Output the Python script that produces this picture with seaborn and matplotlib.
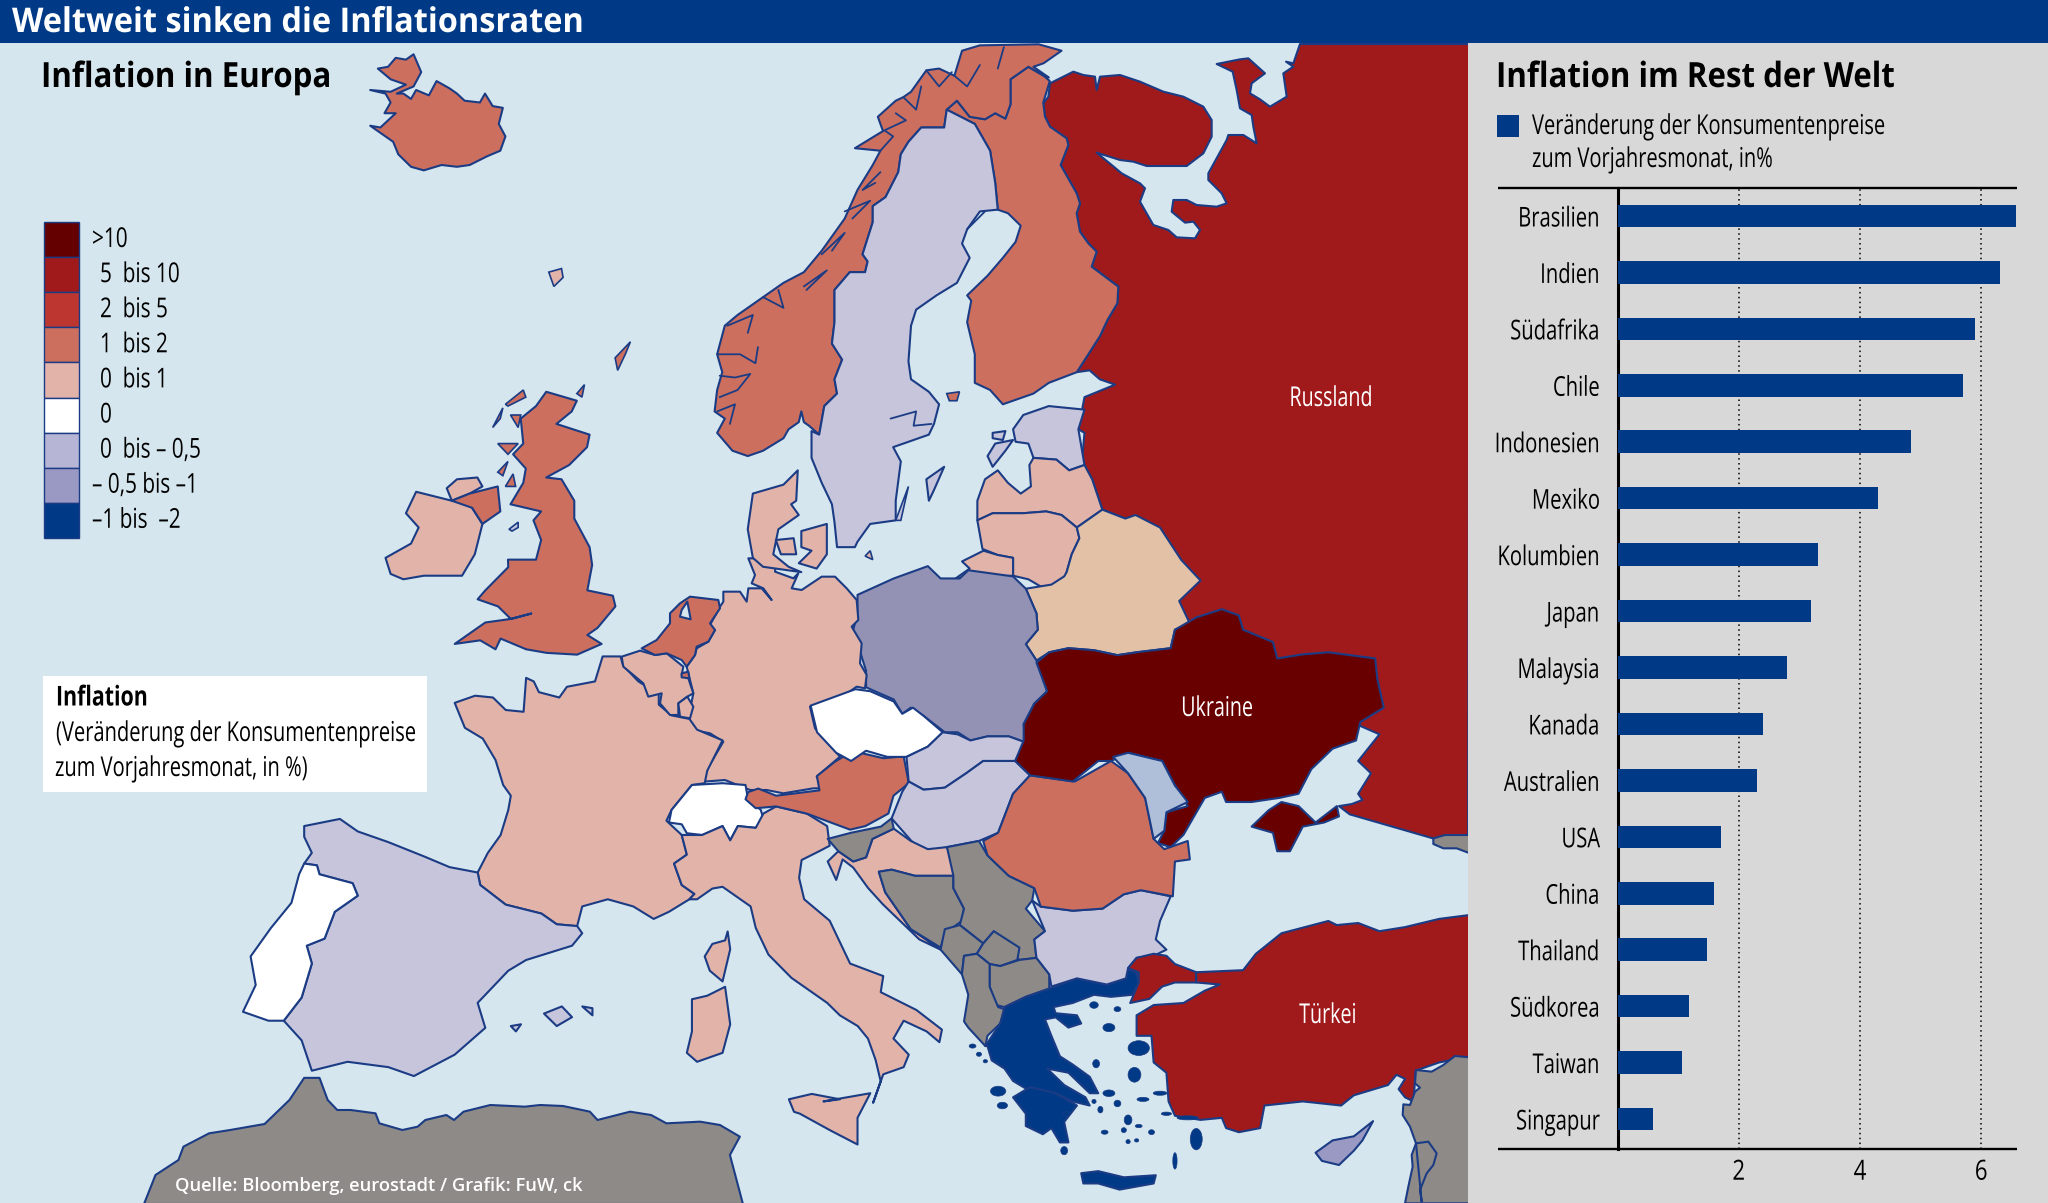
import matplotlib
matplotlib.use("Agg")
import matplotlib.pyplot as plt
from matplotlib.patches import Polygon, Rectangle, Ellipse
from matplotlib.patheffects import AbstractPathEffect
from matplotlib.transforms import Affine2D
import seaborn as sns
import pandas as pd

# ---- chart values ----
COUNTRIES_WORLD = ["Brasilien", "Indien", "Südafrika", "Chile", "Indonesien", "Mexiko", "Kolumbien", "Japan",
                   "Malaysia", "Kanada", "Australien", "USA", "China", "Thailand", "Südkorea", "Taiwan", "Singapur"]
INFLATION_WORLD = [6.57, 6.31, 5.9, 5.7, 4.84, 4.3, 3.3, 3.2, 2.8, 2.4, 2.3, 1.7, 1.6, 1.47, 1.18, 1.06, 0.59]
X_TICKS = [2, 4, 6]
LEGEND_LABELS = [">10", "5  bis 10", "2  bis 5", "1  bis 2", "0  bis 1", "0", "0  bis – 0,5", "– 0,5 bis –1", "–1 bis  –2"]
LEGEND_COLOURS = ["#650000", "#A01A1C", "#BD362F", "#CC6F5E", "#E2B3A8", "#FFFFFF", "#B7B5D5", "#9A99C3", "#003A87"]

C10, C5, C1, C0, WHITE, LAV, POL, GREY, BEL, MOL, BLUE, CYP = ("#680000", "#A01A1C", "#CC6F5E", "#E2B3A8", "#FFFFFF",
    "#C6C5DC", "#9392B5", "#8E8A87", "#E3C1A7", "#AFBFD9", "#003A87", "#9A99C3")
SEA, PANEL, LINE = "#D5E6EE", "#D9D8D9", "#1B3C85"

# reference crops in which the outlines were read
def z4(p): return [(100 + x / 2.613, 1100 + y / 3) for x, y in p]
def z5(p): return [(360 + x / 1.96, 40 + y / 2.8) for x, y in p]
def z6(p): return [(220 + x / 1.96, 560 + y / 2.8) for x, y in p]
def z7(p): return [(800 + x / 2.347, 560 + y / 2.438) for x, y in p]
def z8(p): return [(1040 + x / 3, 40 + y / 3) for x, y in p]
def z9(p): return [(600 + x / 3, 560 + y / 3) for x, y in p]
def z10(p): return [(1400 + x / 3, 820 + y / 3) for x, y in p]

RU_FI = z5([(1405, 930), (1450, 830), (1465, 784)]) + z8([(232, 790), (235, 740), (155, 680), (170, 635), (145, 610), (120, 575), (110, 520), (120, 490), (110, 460), (62, 375), (85, 315), (80, 295), (30, 260), (15, 230), (10, 190)])
RUSSIA = RU_FI + z8([(25, 170), (30, 130), (60, 115), (100, 95), (130, 105), (165, 110), (170, 150), (180, 110), (240, 105), (300, 125), (370, 155), (430, 170), (490, 200), (515, 240), (515, 290), (490, 340), (440, 378), (320, 378), (280, 365), (240, 360), (170, 338), (215, 375), (245, 400), (300, 430), (315, 445), (300, 485), (340, 555), (385, 570), (410, 592), (465, 595), (480, 570), (460, 545), (435, 548), (395, 515), (400, 480), (440, 480), (470, 495), (530, 500), (560, 490), (545, 460), (505, 420), (505, 400), (560, 300), (565, 285), (610, 285), (650, 310), (640, 260), (635, 225), (600, 205), (590, 150), (578, 95), (530, 72), (600, 58), (625, 55), (675, 100), (635, 130), (630, 160), (660, 178), (690, 200), (740, 170), (730, 100), (760, 80), (738, 65), (760, 70), (780, 12), (1290, 12)]) + z7([(1568, 670), (1490, 680), (1440, 665), (1390, 650), (1340, 635), (1290, 620), (1265, 600), (1295, 595), (1320, 585), (1310, 570), (1340, 520), (1310, 490), (1360, 425), (1305, 400), (1000, 300), (800, 100)]) + z5([(1500, 1340), (1455, 1315), (1435, 1230), (1415, 1180), (1420, 1100), (1408, 1090), (1420, 1000), (1480, 965), (1450, 950), (1430, 925)])
FINLAND = z5([(1150, 195), (1170, 170), (1195, 215), (1225, 222), (1245, 205), (1265, 220), (1275, 180), (1275, 110), (1310, 75), (1340, 100), (1352, 115), (1339, 176)]) + RU_FI[::-1] + z5([(1350, 960), (1320, 990), (1260, 1020), (1235, 980), (1205, 960), (1205, 880), (1190, 790), (1198, 730), (1190, 715), (1230, 660), (1260, 610), (1285, 565), (1295, 520), (1270, 485), (1250, 475), (1245, 400), (1235, 310), (1205, 235)])
NORWAY = z5([(760, 1165), (730, 1150), (700, 1100), (715, 1060), (695, 1040), (700, 980), (710, 930), (700, 880), (715, 800), (740, 770), (780, 730), (830, 680), (870, 650), (905, 590), (950, 500), (975, 420), (1005, 350), (1020, 310), (970, 303), (1025, 255), (1015, 215), (1050, 170), (1065, 160), (1080, 145), (1110, 85), (1135, 80), (1165, 100), (1180, 30), (1215, 15), (1330, 12), (1375, 30), (1340, 65), (1320, 75), (1350, 105), (1340, 100), (1310, 75), (1275, 110), (1275, 180), (1265, 220), (1245, 205), (1225, 222), (1195, 215), (1170, 170), (1150, 195), (1145, 245), (1100, 245), (1075, 285), (1060, 320), (1055, 370), (1030, 440), (1005, 465), (1005, 510), (985, 600), (995, 620), (990, 650), (960, 650), (930, 700), (930, 790), (925, 850), (945, 895), (930, 950), (935, 990), (910, 1025), (900, 1105), (880, 1080), (870, 1070), (865, 1040), (860, 1070), (840, 1090), (830, 1115), (790, 1150)])
SWEDEN = z5([(1150, 195), (1205, 235), (1235, 310), (1245, 400), (1250, 475), (1215, 480), (1190, 530), (1180, 570), (1195, 610), (1170, 680), (1130, 715), (1090, 755), (1080, 800), (1075, 900), (1080, 950), (1115, 985), (1135, 1020), (1125, 1075), (1115, 1105), (1085, 1120), (1045, 1140), (1060, 1180), (1050, 1290), (1050, 1345), (1000, 1355), (975, 1405), (970, 1420), (935, 1420), (930, 1350), (925, 1300), (905, 1240), (885, 1170), (885, 1095), (900, 1105), (910, 1025), (935, 990), (930, 950), (945, 895), (925, 850), (930, 790), (930, 700), (960, 650), (990, 650), (995, 620), (985, 600), (1005, 510), (1005, 465), (1030, 440), (1055, 370), (1060, 320), (1075, 285), (1100, 245), (1145, 245)])
ICELAND = z5([(20, 140), (50, 150), (60, 175), (48, 205), (70, 205), (55, 225), (40, 245), (20, 240), (40, 260), (65, 285), (75, 320), (100, 355), (125, 365), (160, 350), (190, 355), (215, 350), (250, 325), (275, 310), (285, 270), (272, 235), (280, 190), (260, 185), (245, 150), (235, 175), (205, 170), (190, 150), (175, 135), (150, 115), (135, 155), (110, 140), (100, 165), (85, 150), (72, 150), (105, 130), (120, 90), (105, 40), (90, 55), (70, 50), (55, 75), (35, 80), (60, 110), (90, 125), (60, 145)])
ESTONIA = z5([(1280, 1090), (1300, 1050), (1350, 1025), (1420, 1035), (1408, 1090), (1420, 1190), (1390, 1205), (1365, 1175), (1320, 1170), (1310, 1130), (1285, 1125)])
LATVIA = z5([(1320, 1170), (1365, 1175), (1390, 1205), (1420, 1190), (1435, 1230), (1455, 1315), (1420, 1350), (1405, 1365), (1375, 1330), (1345, 1320), (1300, 1325), (1240, 1325), (1210, 1345), (1210, 1290), (1225, 1230), (1250, 1205), (1270, 1240), (1295, 1270), (1315, 1250), (1312, 1190)])
LITHUANIA = z5([(1210, 1345), (1240, 1325), (1300, 1325), (1345, 1320), (1375, 1330), (1405, 1365), (1410, 1395), (1395, 1440), (1385, 1490), (1380, 1520), (1340, 1535), (1310, 1510), (1280, 1500), (1280, 1450), (1250, 1442), (1220, 1425)])
KALININGRAD = z5([(1180, 1460), (1222, 1430), (1250, 1442), (1280, 1450), (1280, 1500), (1180, 1505), (1160, 1515), (1195, 1480)])
BELARUS = z5([(1385, 1490), (1395, 1440), (1410, 1395), (1405, 1365), (1455, 1315), (1500, 1340), (1520, 1330), (1568, 1365)]) + z7([(895, 0), (940, 50), (890, 100), (915, 155), (880, 170), (870, 215), (790, 225), (745, 232), (690, 220), (630, 215), (585, 225), (555, 245), (530, 205), (558, 170), (555, 130), (530, 70), (590, 60), (620, 40)])
POLAND = z7([(135, 85), (220, 45), (300, 15), (330, 45), (375, 45), (395, 25), (500, 40), (530, 70), (555, 130), (558, 170), (530, 205), (555, 245), (580, 320), (550, 350), (525, 400), (530, 445), (490, 430), (440, 430), (400, 440), (370, 420), (340, 420), (290, 380), (260, 360), (240, 375), (220, 340), (165, 315), (155, 310), (155, 270), (140, 220), (125, 170), (135, 130)])
GERMANY = z9([(530, -5), (525, 35), (580, 55), (595, 40), (575, 85), (605, 90), (665, 50), (705, 50), (740, 85), (770, 120), (775, 180), (755, 200), (785, 250), (780, 310), (800, 345), (795, 385), (770, 380), (720, 415), (670, 425), (630, 440), (645, 505), (720, 590), (650, 650), (668, 685), (640, 685), (550, 700), (500, 690), (450, 690), (375, 660), (310, 665), (320, 630), (370, 545), (330, 520), (280, 510), (265, 475), (280, 400), (270, 360), (260, 320), (285, 285), (290, 265), (325, 245), (345, 210), (330, 195), (360, 140), (370, 125), (370, 95), (420, 95), (440, 125), (445, 85), (485, 85), (515, 120), (490, 85), (455, 70), (465, 45), (445, -5)])
FRANCE = z6([(750, 270), (785, 270), (790, 295), (820, 340), (860, 375), (860, 405), (885, 435), (920, 445), (935, 475), (985, 505), (955, 590), (950, 625), (925, 630), (885, 700), (875, 730), (905, 770), (915, 825), (890, 850), (905, 910), (930, 935), (920, 950), (880, 985), (850, 1005), (810, 970), (760, 950), (710, 970), (700, 1025), (660, 1020), (630, 990), (560, 965), (510, 910), (505, 875), (525, 820), (550, 770), (565, 700), (570, 660), (555, 630), (540, 560), (515, 500), (480, 470), (460, 400), (500, 380), (535, 385), (560, 420), (595, 425), (600, 330), (615, 340), (625, 370), (665, 385), (680, 355), (735, 340)])
BELGIUM = z9([(65, 290), (120, 272), (165, 285), (200, 280), (250, 320), (245, 345), (265, 355), (280, 400), (262, 410), (235, 430), (235, 465), (210, 465), (180, 430), (185, 400), (145, 410), (130, 370), (100, 345), (70, 320)])
LUXEMBOURG = z9([(235, 430), (262, 410), (280, 440), (270, 475), (240, 470)])
NETHERLANDS = z9([(170, 240), (210, 190), (210, 160), (240, 130), (270, 110), (355, 120), (360, 145), (330, 190), (345, 210), (325, 245), (290, 260), (285, 285), (260, 320), (245, 300), (200, 280), (165, 285), (125, 265)])
LIMBURG = z9([(245, 340), (265, 335), (268, 355), (245, 352)])
IJSSELMEER = z9([(245, 150), (262, 125), (272, 178), (240, 170)])
SWITZERLAND = z6([(885, 700), (925, 630), (985, 625), (1030, 630), (1035, 670), (1060, 700), (1065, 725), (1050, 750), (1015, 745), (1000, 785), (985, 745), (945, 770), (915, 765), (905, 740), (880, 735)])
AUSTRIA = z6([(1035, 650), (1055, 640), (1090, 660), (1175, 645), (1170, 605), (1205, 565), (1240, 535), (1300, 555), (1340, 550), (1350, 625), (1320, 660), (1310, 710), (1265, 745), (1235, 755), (1150, 710), (1090, 690), (1050, 695), (1030, 670)])
CZECHIA = z7([(25, 355), (130, 315), (165, 320), (220, 345), (240, 375), (265, 360), (290, 380), (335, 420), (300, 455), (250, 480), (205, 480), (155, 465), (120, 490), (85, 470), (40, 420)])
SLOVAKIA = z7([(250, 480), (300, 455), (335, 420), (370, 425), (400, 440), (440, 430), (490, 430), (530, 445), (505, 490), (430, 490), (390, 520), (340, 555), (290, 560), (255, 540)])
HUNGARY = z7([(255, 540), (290, 560), (340, 555), (390, 520), (430, 490), (505, 490), (540, 525), (500, 570), (465, 665), (420, 685), (345, 700), (310, 715), (270, 695), (215, 630), (240, 565)])
SLOVENIA = z7([(65, 680), (120, 665), (190, 650), (215, 630), (220, 655), (170, 680), (155, 725), (125, 735), (90, 710)])
CROATIA = z7([(155, 725), (170, 680), (220, 655), (260, 685), (300, 705), (345, 700), (365, 770), (270, 770), (215, 755), (185, 760), (200, 810), (260, 900), (330, 950), (280, 925), (195, 840), (160, 800), (125, 750), (100, 730), (85, 780), (65, 735), (90, 710), (125, 735)])
BOSNIA = z7([(185, 760), (215, 755), (270, 770), (360, 770), (360, 800), (385, 850), (380, 880), (340, 910), (330, 945), (260, 900), (200, 810)])
SERBIA = z7([(345, 700), (420, 685), (440, 720), (490, 770), (550, 800), (545, 830), (530, 850), (575, 905), (550, 925), (555, 970), (515, 975), (480, 940), (455, 905), (430, 935), (375, 890), (385, 850), (360, 800), (360, 770)])
MONTENEGRO = z7([(340, 900), (375, 890), (430, 935), (415, 960), (385, 965), (380, 1010), (330, 950)])
KOSOVO = z7([(430, 935), (455, 905), (515, 945), (510, 975), (470, 990), (445, 985), (415, 960)])
MACEDONIA = z7([(445, 985), (470, 990), (515, 975), (555, 970), (585, 1010), (585, 1045), (530, 1065), (480, 1090), (460, 1085), (445, 1040)])
ALBANIA = z7([(385, 965), (415, 960), (445, 985), (445, 1040), (465, 1090), (480, 1095), (470, 1130), (440, 1160), (435, 1185), (395, 1140), (385, 1125), (395, 1060), (380, 1010)])
GREECE = z7([(435, 1185), (470, 1130), (480, 1090), (530, 1065), (585, 1045), (650, 1020), (720, 1035), (765, 1020), (760, 995), (790, 1005), (795, 1030), (780, 1060), (730, 1065), (690, 1060), (640, 1080), (595, 1090), (600, 1105), (650, 1110), (660, 1130), (630, 1140), (600, 1115), (575, 1120), (590, 1160), (610, 1210), (640, 1230), (680, 1260), (700, 1300), (680, 1300), (630, 1250), (580, 1240), (620, 1280), (670, 1310), (680, 1330), (640, 1320), (600, 1300), (540, 1295), (500, 1270), (480, 1240), (450, 1220), (440, 1185)])
PELOPONNESE = z7([(500, 1310), (540, 1285), (600, 1300), (650, 1330), (620, 1370), (630, 1420), (610, 1420), (590, 1385), (570, 1400), (530, 1380), (530, 1350)])
CRETE = z7([(660, 1495), (700, 1490), (760, 1505), (835, 1500), (830, 1520), (750, 1535), (700, 1520), (665, 1520)])
BULGARIA = z7([(545, 830), (565, 845), (640, 855), (710, 850), (760, 815), (800, 805), (870, 820), (845, 880), (835, 925), (860, 950), (830, 965), (790, 970), (770, 995), (765, 1020), (720, 1035), (650, 1020), (590, 1040), (585, 1010), (555, 970), (550, 925), (575, 905)])
ROMANIA = z7([(430, 685), (465, 665), (500, 570), (540, 525), (645, 540), (730, 490), (770, 520), (810, 580), (830, 680), (855, 705), (910, 685), (915, 730), (880, 735), (875, 820), (800, 805), (760, 815), (710, 850), (640, 855), (565, 845), (550, 800), (490, 770), (440, 720)])
MOLDOVA = z7([(735, 480), (770, 470), (850, 490), (880, 550), (910, 590), (860, 615), (855, 660), (830, 680), (810, 580), (770, 520)])
UKRAINE = z7([(555, 250), (585, 225), (630, 215), (690, 220), (745, 232), (790, 225), (870, 215), (880, 170), (930, 140), (990, 120), (1030, 135), (1040, 170), (1110, 200), (1120, 240), (1180, 230), (1240, 225), (1350, 240), (1355, 290), (1370, 360), (1315, 395), (1305, 440), (1250, 460), (1200, 510), (1170, 570), (1125, 580), (1060, 590), (1000, 590), (990, 565), (950, 580), (925, 625), (900, 670), (870, 700), (840, 690), (855, 660), (860, 615), (910, 600), (880, 550), (850, 490), (770, 470), (730, 490), (700, 490), (640, 540), (540, 525), (505, 490), (525, 440), (525, 400), (550, 350), (580, 320)])
CRIMEA = z7([(1060, 650), (1100, 610), (1130, 590), (1170, 600), (1210, 640), (1260, 600), (1265, 625), (1230, 640), (1180, 650), (1150, 710), (1120, 710), (1110, 665)])
THRACE = z7([(770, 995), (790, 970), (830, 960), (860, 965), (880, 985), (930, 1005), (930, 1030), (880, 1030), (850, 1040), (820, 1070), (775, 1080), (795, 1030), (795, 1005)])
ANATOLIA = z7([(930, 1005), (1040, 1000), (1070, 960), (1130, 910), (1240, 880), (1260, 890), (1310, 885), (1360, 905), (1420, 895), (1500, 875), (1575, 865), (1575, 1210), (1500, 1225), (1445, 1245), (1440, 1320), (1420, 1310), (1405, 1290), (1420, 1265), (1400, 1255), (1380, 1280), (1300, 1305), (1270, 1330), (1180, 1320), (1090, 1330), (1080, 1385), (1030, 1395), (1000, 1385), (990, 1360), (940, 1365), (880, 1355), (865, 1320), (860, 1250), (830, 1225), (825, 1160), (790, 1160), (790, 1110), (830, 1085), (900, 1080), (950, 1050), (985, 1035), (930, 1030)])
LEVANT = z10([(210, 712), (165, 708), (130, 735), (95, 755), (48, 750), (45, 790), (60, 803), (45, 815), (30, 855), (10, 853), (8, 885), (30, 920), (48, 970), (35, 1005), (38, 1040), (25, 1100), (15, 1150), (210, 1150)])
ISRAEL = z10([(48, 970), (85, 965), (110, 1000), (100, 1035), (80, 1060), (60, 1110), (65, 1145)])
GEORGIA = z10([(100, 55), (135, 45), (210, 45), (210, 100), (170, 85), (130, 85), (100, 72)])
CYPRUS = z7([(1210, 1445), (1250, 1415), (1300, 1405), (1345, 1368), (1320, 1415), (1300, 1440), (1265, 1475), (1225, 1465)])
ITALY = z6([(915, 825), (905, 770), (945, 770), (985, 745), (1000, 785), (1015, 745), (1050, 750), (1065, 710), (1090, 690), (1150, 710), (1190, 745), (1195, 800), (1175, 815), (1140, 840), (1135, 890), (1145, 950), (1195, 1010), (1235, 1130), (1300, 1165), (1295, 1210), (1365, 1260), (1415, 1315), (1410, 1350), (1385, 1320), (1340, 1290), (1320, 1340), (1350, 1385), (1340, 1420), (1300, 1440), (1280, 1520), (1295, 1460), (1285, 1400), (1270, 1340), (1250, 1305), (1215, 1275), (1190, 1240), (1120, 1170), (1075, 1105), (1050, 1030), (1040, 970), (985, 915), (965, 920), (935, 950), (920, 950), (930, 935), (905, 910), (890, 850)])
SICILY = z6([(1115, 1510), (1160, 1495), (1215, 1510)]) + z7([(55, 1320), (165, 1300), (135, 1360), (135, 1425), (70, 1390), (0, 1350)]) + z6([(1125, 1545)])
CORSICA = z6([(995, 1040), (1000, 1090), (985, 1180), (960, 1150), (950, 1110), (965, 1075), (990, 1065)])
SARDINIA = z6([(925, 1230), (955, 1220), (990, 1195), (1000, 1300), (985, 1380), (935, 1405), (915, 1380), (925, 1320)])
SPAIN = z6([(165, 745), (235, 725), (270, 760), (330, 790), (400, 830), (450, 860), (505, 875), (510, 910), (560, 965), (630, 990), (660, 1020), (700, 1025), (710, 1045), (690, 1080), (600, 1120), (565, 1150), (505, 1240), (520, 1310), (460, 1385), (380, 1445), (330, 1420), (250, 1405), (180, 1430), (160, 1345), (125, 1290), (160, 1225), (180, 1130), (170, 1080), (205, 1060), (225, 985), (270, 940), (260, 905), (195, 880), (190, 855), (165, 850), (180, 820), (165, 775)])
PORTUGAL = z6([(165, 850), (190, 855), (195, 880), (260, 905), (270, 940), (225, 985), (205, 1060), (170, 1080), (180, 1130), (160, 1225), (125, 1290), (95, 1290), (45, 1265), (70, 1190), (60, 1110), (100, 1030), (140, 960), (155, 880)])
MALLORCA = z6([(635, 1270), (670, 1250), (690, 1280), (660, 1305)])
MENORCA = z6([(710, 1250), (730, 1255), (730, 1275)])
IBIZA = z6([(570, 1305), (590, 1300), (580, 1320)])
BRITAIN = z5([(365, 985), (425, 1010), (415, 1040), (385, 1075), (450, 1105), (445, 1140), (410, 1190), (365, 1225), (395, 1230), (420, 1290), (420, 1340), (450, 1420), (455, 1470)]) + z6([(720, 85), (770, 100), (775, 130), (740, 190), (720, 210), (748, 235), (700, 265), (640, 260), (600, 250), (550, 220), (540, 250), (510, 225), (460, 235), (520, 175), (570, 165), (610, 150), (570, 165), (545, 130), (505, 110), (520, 85), (565, 20)]) + z5([(290, 1455), (345, 1455), (355, 1400), (340, 1345), (355, 1320), (295, 1300), (320, 1240), (325, 1200), (300, 1160), (320, 1130), (315, 1060), (345, 1025)])
IRELAND = z5([(110, 1265), (180, 1290), (215, 1300), (240, 1355), (225, 1440), (200, 1500), (125, 1500), (85, 1510), (60, 1495), (50, 1450), (100, 1410), (115, 1365), (90, 1325)])
DONEGAL = z5([(170, 1255), (190, 1230), (230, 1225), (240, 1250), (215, 1270), (180, 1290)])
NI = z5([(180, 1290), (215, 1270), (270, 1250), (275, 1320), (240, 1355), (220, 1310)])
DENMARK = z5([(760, 1370), (770, 1270), (830, 1245), (858, 1205), (855, 1290), (845, 1300), (860, 1330), (820, 1370), (810, 1440), (840, 1475), (865, 1490), (790, 1475), (770, 1450)])
FYN = z5([(815, 1400), (850, 1395), (855, 1440), (825, 1440)])
ZEALAND = z5([(865, 1375), (915, 1355), (915, 1440), (895, 1480), (860, 1465), (885, 1430), (865, 1420)])
GOTLAND = z5([(1110, 1230), (1145, 1195), (1125, 1260), (1115, 1290)])
SAAREMAA = z5([(1230, 1165), (1245, 1130), (1280, 1120), (1265, 1150), (1240, 1195)])
HIIUMAA = z5([(1240, 1100), (1265, 1095), (1260, 1120), (1240, 1115)])
AFRICA = z4([(115, 312), (145, 225), (205, 180), (218, 140), (285, 100), (340, 90), (430, 72), (495, 0)]) + z6([(165, 1450), (195, 1450)]) + z4([(595, 0), (620, 30), (655, 30), (720, 40), (730, 70), (790, 90), (830, 80), (850, 60), (905, 45), (925, 60), (950, 35), (1020, 15), (1110, 20), (1150, 15), (1210, 18), (1280, 35), (1300, 60), (1385, 35), (1440, 45), (1480, 70), (1568, 65), (1620, 75), (1672, 110), (1646, 165), (1680, 312)])

REGIONS = [(RUSSIA, C5), (FINLAND, C1), (NORWAY, C1), (SWEDEN, LAV), (ICELAND, C1), (ESTONIA, LAV), (SAAREMAA, LAV), (HIIUMAA, LAV),
           (LATVIA, C0), (LITHUANIA, C0), (KALININGRAD, C0), (BELARUS, BEL), (POLAND, POL), (GERMANY, C0), (FRANCE, C0),
           (BELGIUM, C0), (LUXEMBOURG, C0), (NETHERLANDS, C1), (LIMBURG, C1), (IJSSELMEER, SEA), (SWITZERLAND, WHITE), (ITALY, C0), (AUSTRIA, C1), (CZECHIA, WHITE),
           (SLOVAKIA, LAV), (HUNGARY, LAV), (CROATIA, C0), (SLOVENIA, GREY), (BOSNIA, GREY), (SERBIA, GREY), (MONTENEGRO, GREY),
           (KOSOVO, GREY), (MACEDONIA, GREY), (ALBANIA, GREY), (GREECE, BLUE), (PELOPONNESE, BLUE), (CRETE, BLUE),
           (BULGARIA, LAV), (ROMANIA, C1), (UKRAINE, C10), (MOLDOVA, MOL), (CRIMEA, C10), (THRACE, C5), (ANATOLIA, C5),
           (LEVANT, GREY), (ISRAEL, GREY), (GEORGIA, GREY), (CYPRUS, CYP), (SICILY, C0), (CORSICA, C0), (SARDINIA, C0),
           (SPAIN, LAV), (PORTUGAL, WHITE), (MALLORCA, LAV), (MENORCA, LAV), (IBIZA, LAV), (BRITAIN, C1), (IRELAND, C0), (DONEGAL, C0), (NI, C1),
           (DENMARK, C0), (FYN, C0), (ZEALAND, C0), (GOTLAND, LAV), (AFRICA, GREY)]

GREEK_ISLES = [(795, 1190, 25, 18), (785, 1255, 15, 18), (725, 1140, 14, 10), (690, 1085, 10, 8), (745, 1095, 8, 6), (695, 1228, 8, 10),
               (620, 1440, 8, 10), (725, 1300, 14, 8), (745, 1325, 8, 8), (770, 1365, 9, 12), (805, 1315, 14, 5), (845, 1300, 16, 5),
               (825, 1395, 7, 6), (795, 1380, 8, 4), (705, 1340, 6, 8), (715, 1395, 8, 5), (760, 1390, 6, 6), (770, 1418, 5, 5),
               (790, 1415, 5, 4), (860, 1350, 12, 4), (910, 1360, 25, 5), (930, 1412, 14, 26), (880, 1465, 5, 20), (475, 1330, 12, 8),
               (465, 1295, 18, 12), (405, 1185, 8, 5), (420, 1205, 6, 5), (435, 1222, 5, 4), (625, 1350, 8, 5), (690, 1320, 5, 5)]
NORTH_ISLES = [[(285, 1020), (320, 980), (325, 1000), (290, 1025)],
               [(260, 1085), (280, 1030), (275, 1060)], [(295, 1050), (315, 1050), (310, 1085)], [(270, 1130), (310, 1130), (290, 1160)],
               [(270, 1210), (290, 1180), (280, 1220)], [(285, 1250), (300, 1215), (305, 1250)], [(425, 990), (440, 965), (435, 1000)],
               [(500, 890), (530, 845), (520, 880), (505, 925)], [(370, 650), (395, 640), (398, 665), (380, 690)], [(292, 1370), (310, 1350), (310, 1365), (298, 1375)],
               [(990, 1445), (1000, 1430), (1005, 1455)], [(1150, 990), (1175, 985), (1170, 1010), (1155, 1010)], [(1050, 1345), (1075, 1250), (1060, 1345)]]
NORTH_ISLE_COLOURS = [C1, C1, C1, C1, C1, C1, C1, C1, C0, LAV, C0, C1, LAV]
FJORDS = [[(700, 880), (745, 880), (775, 905), (780, 860)], [(705, 940), (735, 945), (765, 935), (740, 980), (705, 1000)],
          [(700, 1040), (735, 1020), (725, 1075)], [(720, 800), (770, 770), (760, 820)], [(790, 720), (830, 750), (820, 700)],
          [(875, 700), (915, 645), (870, 690)], [(1010, 400), (985, 420), (1020, 370)], [(950, 480), (1000, 450), (965, 500)],
          [(905, 600), (950, 540), (925, 590)], [(1040, 1060), (1090, 1040), (1085, 1080), (1120, 1075)], [(1190, 530), (1225, 480)],
          [(1020, 310), (1045, 270), (1030, 255)], [(1025, 255), (1070, 225), (1050, 205)], [(1065, 160), (1090, 195), (1100, 130)],
          [(1110, 85), (1135, 130), (1160, 90)], [(1165, 100), (1190, 130), (1215, 70)], [(1250, 80), (1262, 20)]]


class Condense(AbstractPathEffect):
    """Draws the glyphs of a real text narrower, as the reference's condensed face."""
    def __init__(self, sx, anchor="left"):
        super().__init__()
        self.sx, self.anchor = sx, anchor

    def draw_path(self, renderer, gc, tpath, affine, rgbFace=None):
        e = tpath.get_extents()
        x0 = {"left": 0, "center": (e.x0 + e.x1) / 2, "right": e.x1}[self.anchor]
        t = Affine2D().translate(-x0, 0).scale(self.sx, 1).translate(x0, 0) + affine
        renderer.draw_path(gc, tpath, t, rgbFace)


sns.set_theme(style="white")
BODY = ["Open Sans", "DejaVu Sans"]
plt.rcParams["font.family"] = BODY

W, H = 2048, 1203
fig = plt.figure(figsize=(W / 100, H / 100), dpi=100, facecolor=SEA)
m = fig.add_axes([0, 0, 1, 1])
m.set_xlim(0, W); m.set_ylim(H, 0); m.axis("off")


def label(x, y, s, sx=0.72, size=19.7, color="black", ha="left", weight="normal", z=8):
    t = m.text(x, y, s, color=color, fontsize=size, ha=ha, va="center", weight=weight, zorder=z)
    t.set_path_effects([Condense(sx, ha)])
    return t


m.add_patch(Rectangle((0, 0), W, H, fc=SEA, ec="none", zorder=0))
for pts, col in REGIONS:
    m.add_patch(Polygon(pts, closed=True, fc=col, ec=LINE, lw=1.5, joinstyle="round", zorder=2))
for pts, col in zip(NORTH_ISLES, NORTH_ISLE_COLOURS):
    m.add_patch(Polygon(z5(pts), closed=True, fc=col, ec=LINE, lw=1.2, zorder=3))
for x, y, rx, ry in GREEK_ISLES:
    cx, cy = z7([(x, y)])[0]
    m.add_patch(Ellipse((cx, cy), 2 * rx / 2.347, 2 * ry / 2.438, fc=BLUE, ec=LINE, lw=0.5, zorder=3))
for pts in FJORDS:
    xs, ys = zip(*z5(pts))
    m.plot(xs, ys, color=LINE, lw=1.3, zorder=3, solid_joinstyle="round")

# panel and header
m.add_patch(Rectangle((1467.5, 0), W - 1467.5, H, fc=PANEL, ec="none", zorder=5))
m.add_patch(Rectangle((0, 0), W, 43, fc=BLUE, ec="none", zorder=6))
label(12, 23, "Weltweit sinken die Inflationsraten", sx=0.955, size=24.5, color="white", weight="bold")
label(41, 78, "Inflation in Europa", sx=0.9, size=25, weight="bold")
label(1496, 78, "Inflation im Rest der Welt", sx=0.9, size=25, weight="bold")
for x, y, s in [(1331, 399, "Russland"), (1217, 709, "Ukraine"), (1328, 1016, "Türkei")]:
    label(x, y, s, color="white", ha="center")
m.text(175, 1186, "Quelle: Bloomberg, eurostadt / Grafik: FuW, ck", color="white", weight="semibold", fontsize=13.2, va="center", zorder=8)

# choropleth legend
for i, (lab, col) in enumerate(zip(LEGEND_LABELS, LEGEND_COLOURS)):
    y = 222 + 35.1 * i
    m.add_patch(Rectangle((44, y), 35, 35.1, fc=col, ec=LINE, lw=1, zorder=7))
    label(92 if lab[0] in ">–" else 100, y + 18, lab, sx=0.76)

m.add_patch(Rectangle((43, 676), 384, 116, fc="white", ec="none", zorder=7))
label(56, 698.5, "Inflation", sx=0.78, weight="bold")
label(56, 734, "(Veränderung der Konsumentenpreise", sx=0.735)
label(55, 769, "zum Vorjahresmonat, in %)", sx=0.735)

# bar legend
m.add_patch(Rectangle((1497, 115), 22, 22, fc=BLUE, ec="none", zorder=7))
label(1532, 127, "Veränderung der Konsumentenpreise", sx=0.733)
label(1532, 160, "zum Vorjahresmonat, in%", sx=0.733)
m.plot([1497.5, 2017], [188, 188], color="black", lw=1.7, zorder=7, solid_capstyle="butt")
m.plot([1497.5, 2017], [1149, 1149], color="black", lw=1.7, zorder=7, solid_capstyle="butt")

# bars
df = pd.DataFrame({"Land": COUNTRIES_WORLD, "Inflation": INFLATION_WORLD})
ax = fig.add_axes([1617.5 / W, 1 - 1149 / H, (2017 - 1617.5) / W, (1149 - 188) / H])
ax.patch.set_visible(False)
sns.barplot(data=df, x="Inflation", y="Land", color=BLUE, saturation=1, width=0.4, linewidth=0, ax=ax, zorder=3)
ax.set_xlim(0, 6.59)
ax.set_ylim(16 + 30 / 56.44, -28 / 56.44)
ax.set_xlabel(""); ax.set_ylabel("")
ax.set_xticks(X_TICKS)
ax.tick_params(axis="x", length=0, labelsize=20, pad=7, colors="black")
ax.tick_params(axis="y", length=0, labelsize=19.7, pad=12.5, colors="black")
for t in ax.get_xticklabels():
    t.set_path_effects([Condense(0.8, "center")])
for t in ax.get_yticklabels():
    t.set_path_effects([Condense(0.74, "right")])
ax.grid(axis="x", color="black", ls=(0, (1, 2.2)), lw=1.1, zorder=1)
ax.grid(axis="y", visible=False)
ax.set_axisbelow(True)
for s in ["top", "right", "bottom"]:
    ax.spines[s].set_visible(False)
ax.spines["left"].set_color("black"); ax.spines["left"].set_linewidth(2.2)
fig.savefig("out.png", dpi=100, facecolor=SEA)
